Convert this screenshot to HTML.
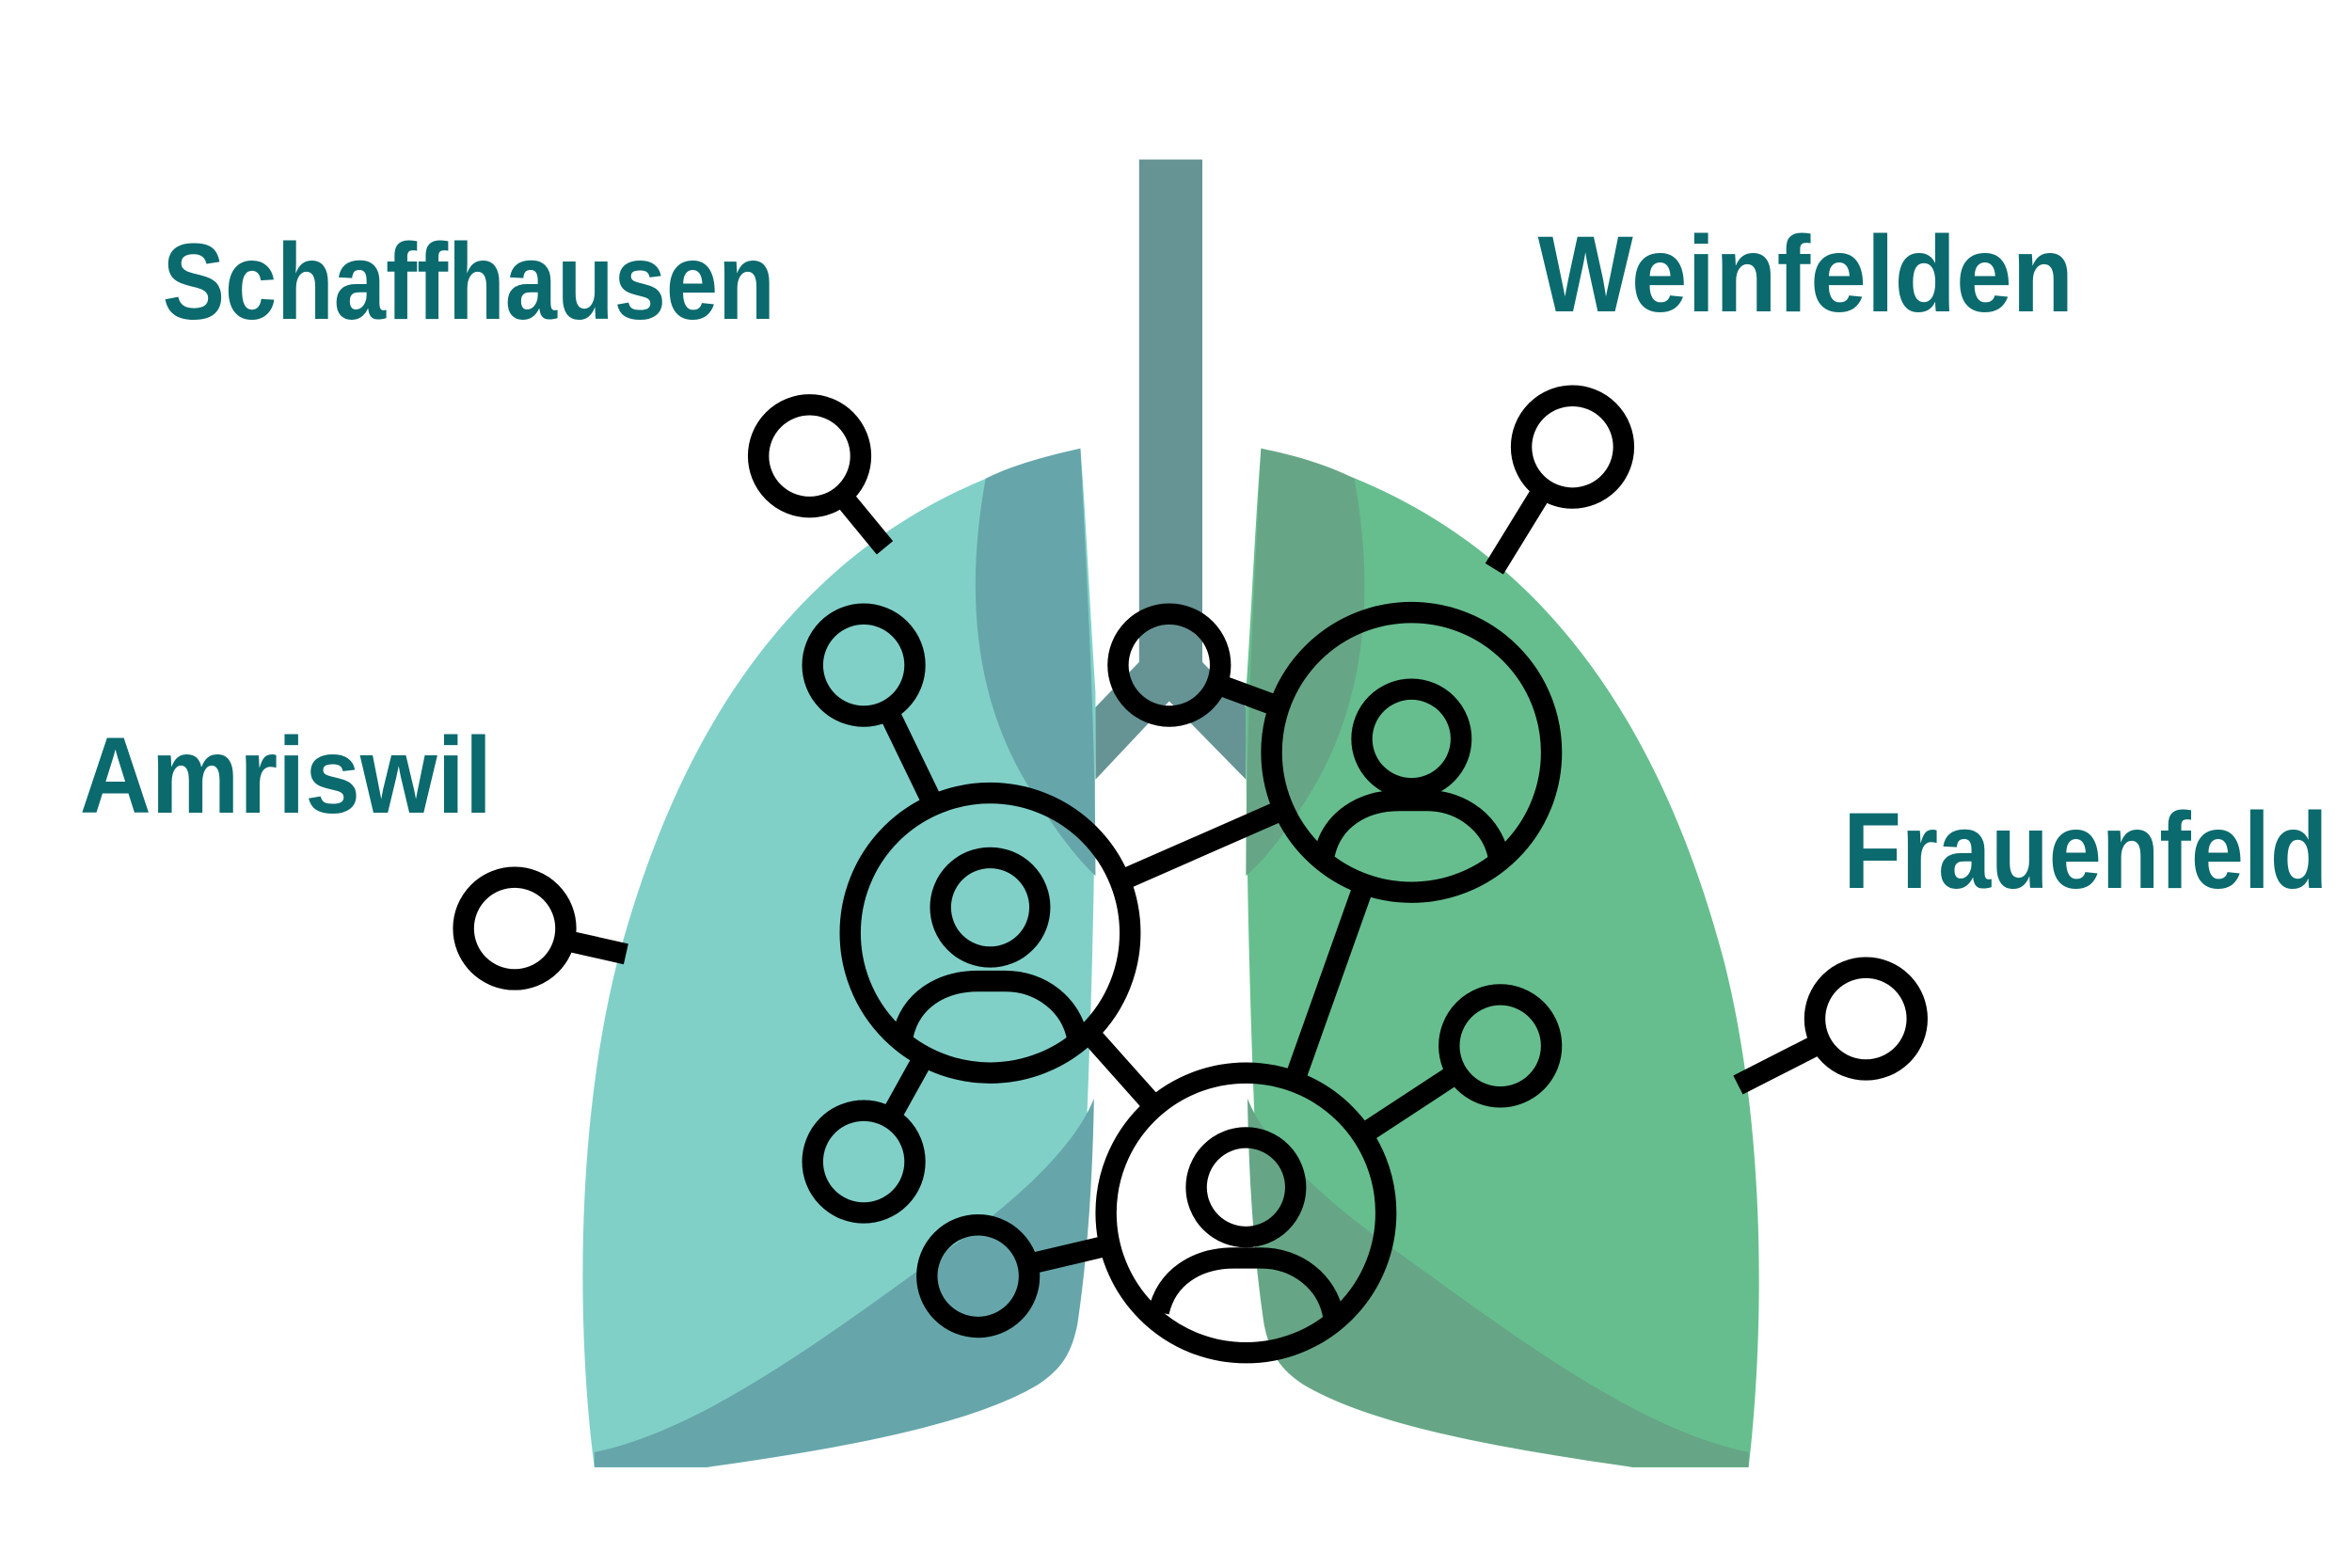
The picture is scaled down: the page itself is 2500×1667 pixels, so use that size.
<!DOCTYPE html>
<html><head><meta charset="utf-8"><style>html,body{margin:0;padding:0;background:#fff}svg{display:block}</style></head>
<body>
<svg width="2500" height="1667" viewBox="0 0 1563 1042" preserveAspectRatio="none" xmlns="http://www.w3.org/2000/svg">
<rect width="1563" height="1042" fill="#fff"/>
<!-- trachea & bronchi -->
<rect x="757" y="106" width="42" height="360" fill="#669494"/>
<path d="M757,440 L728,470 L728,518 L777,466 L828,518 L828,470 L799,440 Z" fill="#669494"/>
<!-- left lung -->
<path d="M718,298 C560,335 460,450 410,640 C380,760 385,900 395,975 L470,975 C600,952 680,935 705,905 C712,895 715,885 716,870 C726,700 728,560 728,460 C724,400 722,350 718,298 Z" fill="#80d0c8"/>
<path d="M718,298 C700,302 675,308 655,318 C640,400 650,470 685,525 C700,550 715,570 728,582 C728,520 726,460 722,380 Z" fill="#66a6aa"/>
<path d="M395,965 C470,950 560,880 630,830 C680,795 715,760 727,730 C726,790 722,840 716,880 C712,900 705,910 690,920 C640,950 540,965 470,975 L395,975 Z" fill="#66a6aa"/>
<!-- right lung -->
<path d="M838,298 C996,335 1096,450 1146,640 C1176,760 1171,900 1162,975 L1085,975 C956,952 876,935 851,905 C844,895 841,885 840,870 C830,700 828,560 828,460 C832,400 834,350 838,298 Z" fill="#66be8e"/>
<path d="M838,298 C858,302 880,308 900,318 C915,400 905,470 872,525 C857,550 842,570 828,582 C828,520 830,460 834,380 Z" fill="#66a686"/>
<path d="M1162,965 C1086,950 996,880 926,830 C876,795 841,760 829,730 C830,790 834,840 840,880 C844,900 851,910 866,920 C916,950 1016,965 1085,975 L1162,975 Z" fill="#66a686"/>
<!-- connectors -->
<g stroke="#000" stroke-width="14" fill="none" stroke-linecap="butt">
<line x1="560" y1="330" x2="588" y2="364"/>
<line x1="590" y1="472" x2="620" y2="534"/>
<line x1="376" y1="625" x2="416" y2="634"/>
<line x1="1025" y1="326" x2="993" y2="378"/>
<line x1="1210" y1="693" x2="1155" y2="721"/>
<line x1="968" y1="713" x2="910" y2="751"/>
<line x1="592" y1="742" x2="612" y2="706"/>
<line x1="684" y1="840" x2="735" y2="828"/>
<line x1="810" y1="455" x2="848" y2="469"/>
<line x1="750" y1="583" x2="848" y2="540"/>
<line x1="725" y1="688" x2="766" y2="734"/>
<line x1="905" y1="592" x2="862" y2="713"/>
</g>
<!-- small nodes -->
<g stroke="#000" stroke-width="14">
<circle cx="538" cy="303" r="34" fill="#fff"/>
<circle cx="342" cy="617" r="34" fill="#fff"/>
<circle cx="1045" cy="297" r="34" fill="#fff"/>
<circle cx="1240" cy="677" r="34" fill="#fff"/>
<circle cx="574" cy="442" r="34" fill="none"/>
<circle cx="574" cy="772" r="34" fill="none"/>
<circle cx="650" cy="848" r="34" fill="none"/>
<circle cx="777" cy="442" r="34" fill="none"/>
<circle cx="997" cy="695" r="34" fill="none"/>
</g>
<!-- big person nodes -->
<g stroke="#000" stroke-width="14" fill="none">
<circle cx="658" cy="620" r="93"/>
<circle cx="658" cy="603" r="33"/>
<path d="M600,688 C605,665 625,652 650,652 L668,652 C692,652 712,668 716,690"/>
<circle cx="938" cy="500" r="93"/>
<circle cx="938" cy="491" r="33"/>
<path d="M880,568 C885,545 905,532 930,532 L948,532 C972,532 992,548 996,570"/>
<circle cx="828" cy="806" r="93"/>
<circle cx="828" cy="789" r="33"/>
<path d="M770,872 C775,849 795,836 820,836 L838,836 C862,836 882,852 886,874"/>
</g>
<!-- labels -->
<g fill="#0b6a6e" font-family="Liberation Sans, sans-serif" font-weight="bold" font-size="72">
<text x="108" y="212" textLength="407" lengthAdjust="spacingAndGlyphs">Schaffhausen</text>
<text x="1022" y="207" textLength="356" lengthAdjust="spacingAndGlyphs">Weinfelden</text>
<text x="53" y="540" textLength="274" lengthAdjust="spacingAndGlyphs">Amriswil</text>
<text x="1225" y="590" textLength="322" lengthAdjust="spacingAndGlyphs">Frauenfeld</text>
</g>
</svg>
</body></html>
